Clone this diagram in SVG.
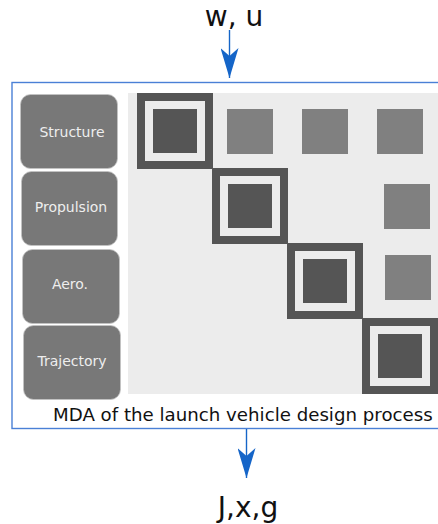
<svg xmlns="http://www.w3.org/2000/svg" width="438" height="524" viewBox="0 0 438 524">
  <style>
    .io { font-family: "DejaVu Sans", "Liberation Sans", sans-serif; font-size: 28px; fill: #111; text-anchor: middle; }
    .cap { font-family: "DejaVu Sans", "Liberation Sans", sans-serif; font-size: 18.2px; fill: #111; }
    .disc rect { fill: #787878; stroke: #c4c4c4; stroke-width: 0.8; }
    .disc text { font-family: "DejaVu Sans", "Liberation Sans", sans-serif; font-size: 14px; fill: #eeeeee; text-anchor: middle; }
    .diag { fill: #555555; }
    .ring { fill: #ececec; }
    .cpl { fill: #808080; }
    .flow { stroke: #1565c8; stroke-width: 1.4; fill: none; }
  </style>
  <defs>
    <marker id="head" viewBox="0 0 30 18" refX="30" refY="9" markerWidth="30" markerHeight="18" markerUnits="userSpaceOnUse" orient="auto">
      <path d="M0,0 L30,9 L0,18 L8,9 Z" fill="#1565c8"/>
    </marker>
  </defs>

  <rect width="438" height="524" fill="#ffffff"/>

  <!-- inputs / outputs -->
  <text class="io" x="234" y="26">w, u</text>
  <text class="io" x="248" y="517">J,x,g</text>

  <!-- MDA frame -->
  <g id="mda">
    <rect x="12" y="82.5" width="440" height="346" fill="#ffffff" stroke="#4a80d6" stroke-width="1.4"/>
    <rect x="128" y="93" width="320" height="301" fill="#ececec"/>
    <text class="cap" x="53" y="421">MDA of the launch vehicle design process</text>
  </g>

  <!-- discipline labels -->
  <g id="structure" class="disc">
    <rect x="20.5" y="94.5" width="97" height="74" rx="10"/>
    <text x="72" y="137">Structure</text>
  </g>
  <g id="propulsion" class="disc">
    <rect x="21.5" y="171.5" width="96" height="74" rx="10"/>
    <text x="71" y="212">Propulsion</text>
  </g>
  <g id="aero" class="disc">
    <rect x="22.5" y="249.5" width="97" height="74" rx="10"/>
    <text x="70" y="289">Aero.</text>
  </g>
  <g id="trajectory" class="disc">
    <rect x="23.5" y="325.5" width="97" height="74" rx="10"/>
    <text x="72" y="366">Trajectory</text>
  </g>

  <!-- diagonal discipline blocks -->
  <g id="block-structure">
    <rect class="diag" x="137" y="93" width="76" height="76"/>
    <rect class="ring" x="145" y="101" width="60" height="60"/>
    <rect class="diag" x="153" y="109" width="44" height="44"/>
  </g>
  <g id="block-propulsion">
    <rect class="diag" x="212" y="168" width="76" height="76"/>
    <rect class="ring" x="220" y="176" width="60" height="60"/>
    <rect class="diag" x="228" y="184" width="44" height="44"/>
  </g>
  <g id="block-aero">
    <rect class="diag" x="287" y="243" width="76" height="76"/>
    <rect class="ring" x="295" y="251" width="60" height="60"/>
    <rect class="diag" x="303" y="259" width="44" height="44"/>
  </g>
  <g id="block-trajectory">
    <rect class="diag" x="362" y="318" width="76" height="76"/>
    <rect class="ring" x="370" y="326" width="60" height="60"/>
    <rect class="diag" x="378" y="334" width="44" height="44"/>
  </g>

  <!-- coupling entries -->
  <g id="couplings">
    <rect class="cpl" x="227" y="109" width="46" height="45"/>
    <rect class="cpl" x="302" y="109" width="46" height="45"/>
    <rect class="cpl" x="377" y="109" width="46" height="45"/>
    <rect class="cpl" x="384" y="184" width="46" height="45"/>
    <rect class="cpl" x="385" y="255" width="46" height="45"/>
  </g>

  <!-- flow arrows -->
  <g id="connectors">
    <line class="flow" x1="229.5" y1="30" x2="229.5" y2="78" marker-end="url(#head)"/>
    <line class="flow" x1="246.5" y1="429" x2="246.5" y2="478" marker-end="url(#head)"/>
  </g>
</svg>
